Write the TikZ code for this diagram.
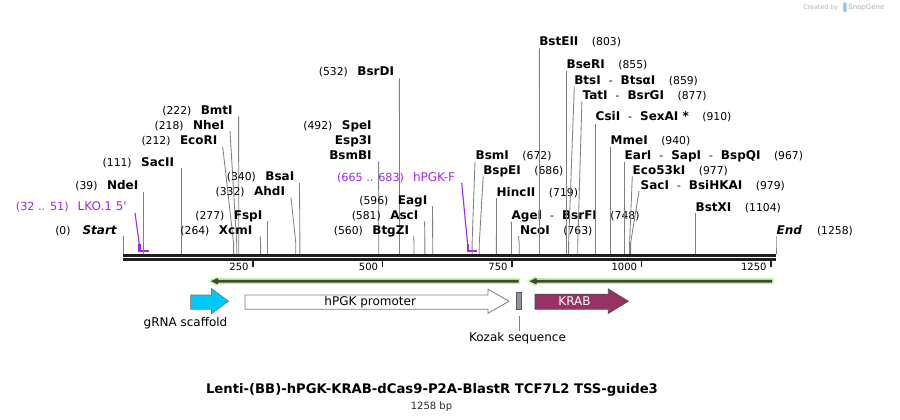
\documentclass[tikz,border=0pt]{standalone}
\usepackage{fontspec}
\setmainfont{DejaVu Sans}
\definecolor{sitegray}{RGB}{128,128,128}
\definecolor{primerc}{RGB}{160,40,240}
\definecolor{lgreen}{RGB}{200,242,160}
\definecolor{dgreen}{RGB}{62,72,52}
\definecolor{cyanf}{RGB}{0,200,255}
\definecolor{krabf}{RGB}{152,50,100}
\definecolor{kozakf}{RGB}{140,150,160}
\definecolor{logogray}{RGB}{175,175,175}
\definecolor{logoblue}{RGB}{150,200,235}
\newcommand\enzn[1]{{\fontsize{12}{14}\selectfont\bfseries #1}}
\newcommand\enzse[1]{{\fontsize{12}{14}\selectfont\bfseries\itshape #1}}
\newcommand\enzp[1]{{\fontsize{10.8}{13}\selectfont #1}}
\newcommand\primp[1]{{\fontsize{11.2}{13}\selectfont #1}}
\newcommand\primn[1]{{\fontsize{12}{14}\selectfont #1}}
\newcommand\dsep{\hspace{8pt}{\fontsize{10.8}{13}\selectfont -}\hspace{8pt}}
\newcommand\lgap{\hspace{9.5pt}}
\newcommand\rgap{\hspace{13.5pt}}
\newcommand\siteline[4]{%
  \coordinate (#1t) at (#2,#3);
  \coordinate (#1b) at (#4,243);
  \coordinate (#1e) at (#4,254);
  \draw[siteln] (#1t) -- (#1b) -- (#1e);}
\newcommand\orfarrow[3]{%
  \coordinate (#1tip) at (#2,281.2);
  \coordinate (#1tail) at (#3,281.2);
  \fill[lgreen] (#1tip) -- ++(9,-5.2) -- ++(0,2.2) -- (#3+1.5,278.2) -- (#3+1.5,284.2) -- (#2+9,284.2) -- (#2+9,286.4) -- cycle;
  \fill[dgreen] (#2+3,281.2) -- (#2+10,277.9) -- (#2+10,279.9) -- (#3,279.9) -- (#3,282.6) -- (#2+10,282.6) -- (#2+10,284.5) -- cycle;}
\tikzset{
  lab/.style={inner sep=0pt, outer sep=0pt},
  siteln/.style={draw=sitegray, line width=0.85pt},
  primerln/.style={draw=primerc, line width=1.1pt},
  primerbar/.style={draw=primerc, line width=2.2pt},
  featlab/.style={inner sep=0pt, outer sep=0pt, font=\fontsize{12}{14}\selectfont},
  ticklab/.style={inner sep=0pt, outer sep=0pt, font=\fontsize{10}{12}\selectfont},
}
\begin{document}
\begin{tikzpicture}[x=1pt,y=-1pt]
\useasboundingbox (0,0) rectangle (900,420);
\fill[white] (0,0) rectangle (900,420);

% logo
\node[lab, anchor=base east, text=logogray, font=\fontsize{6.3}{8}\selectfont] (logoA) at (838,10) {Created by};
\fill[logoblue, rounded corners=1pt] (843.2,2.5) rectangle (846.6,12);
\node[lab, anchor=base west, text=logogray, font=\fontsize{7}{8}\selectfont] (logoB) at (848.3,10) {SnapGene};

% ---------- left-side sites ----------
\node[lab,anchor=base east] (lStart) at (116.7,234) {\enzp{(0)}\hspace{12pt}\enzse{Start}};
\siteline{Start}{123.5}{236}{123.5}

\node[lab,anchor=base east,text=primerc] (lLKO) at (126.7,210.7) {\primp{(32 .. 51)}\hspace{9pt}\primn{LKO.1 5\textquotesingle}};
\coordinate (pLKOt) at (135,212.8);
\coordinate (pLKOb) at (139.4,245);
\draw[primerln] (pLKOt) -- (pLKOb);
\draw[primerbar] (139.4,244) -- (139.4,251) -- (149.3,251);

\node[lab,anchor=base east] (lNdeI) at (138.3,189.3) {\enzp{(39)}\lgap\enzn{NdeI}};
\siteline{NdeI}{143.9}{191.5}{143.9}
\node[lab,anchor=base east] (lSacII) at (174,166) {\enzp{(111)}\lgap\enzn{SacII}};
\siteline{SacII}{181.2}{168.3}{181.2}
\node[lab,anchor=base east] (lEcoRI) at (217.3,144.3) {\enzp{(212)}\lgap\enzn{EcoRI}};
\siteline{EcoRI}{222.7}{146.7}{233.6}
\node[lab,anchor=base east] (lNheI) at (224.3,129) {\enzp{(218)}\lgap\enzn{NheI}};
\siteline{NheI}{230}{131}{236.7}
\node[lab,anchor=base east] (lBmtI) at (232.7,114) {\enzp{(222)}\lgap\enzn{BmtI}};
\siteline{BmtI}{238.6}{116.5}{238.8}
\node[lab,anchor=base east] (lXcmI) at (252.3,234) {\enzp{(264)}\lgap\enzn{XcmI}};
\siteline{XcmI}{260.2}{236}{260.6}
\node[lab,anchor=base east] (lFspI) at (262.3,219.3) {\enzp{(277)}\lgap\enzn{FspI}};
\siteline{FspI}{267.3}{221.3}{267.3}
\node[lab,anchor=base east] (lAhdI) at (285,195.7) {\enzp{(332)}\lgap\enzn{AhdI}};
\siteline{AhdI}{291}{197.6}{295.8}
\node[lab,anchor=base east] (lBsaI) at (294.3,180.7) {\enzp{(340)}\lgap\enzn{BsaI}};
\siteline{BsaI}{299.5}{183}{299.9}
\node[lab,anchor=base east] (lSpeI) at (371.7,129.3) {\enzp{(492)}\lgap\enzn{SpeI}};
\node[lab,anchor=base east] (lEsp3I) at (371.7,144.3) {\enzn{Esp3I}};
\node[lab,anchor=base east] (lBsmBI) at (371.7,159.3) {\enzn{BsmBI}};
\siteline{SpeI}{378.6}{161.3}{378.8}
\node[lab,anchor=base east] (lBsrDI) at (394,76) {\enzp{(532)}\lgap\enzn{BsrDI}};
\siteline{BsrDI}{399.4}{78.5}{399.5}
\node[lab,anchor=base east] (lBtgZI) at (409,234) {\enzp{(560)}\lgap\enzn{BtgZI}};
\siteline{BtgZI}{413.7}{236}{414}
\node[lab,anchor=base east] (lAscI) at (418.3,219) {\enzp{(581)}\lgap\enzn{AscI}};
\siteline{AscI}{424.6}{221.3}{424.9}
\node[lab,anchor=base east] (lEagI) at (427.3,204) {\enzp{(596)}\lgap\enzn{EagI}};
\siteline{EagI}{432.5}{206.2}{432.7}

\node[lab,anchor=base east,text=primerc] (lhPGKF) at (455,181.5) {\primp{(665 .. 683)}\hspace{9pt}\primn{hPGK-F}};
\coordinate (phPGKt) at (461.7,182.9);
\coordinate (phPGKb) at (467.7,245);
\draw[primerln] (phPGKt) -- (phPGKb);
\draw[primerbar] (467.7,244) -- (467.7,251) -- (476.5,251);

% ---------- right-side sites ----------
\node[lab,anchor=base west] (rBsmI) at (475.7,159.3) {\enzn{BsmI}\rgap\enzp{(672)}};
\siteline{BsmI}{475}{161.5}{472.1}
\node[lab,anchor=base west] (rBspEI) at (483.3,174.3) {\enzn{BspEI}\rgap\enzp{(686)}};
\siteline{BspEI}{483.2}{176.3}{479.3}
\node[lab,anchor=base west] (rHincII) at (496.7,196) {\enzn{HincII}\rgap\enzp{(719)}};
\siteline{HincII}{496.5}{198}{496.4}
\node[lab,anchor=base west] (rAgeI) at (511.7,219.3) {\enzn{AgeI}\dsep\enzn{BsrFI}\rgap\enzp{(748)}};
\siteline{AgeI}{511.4}{221.6}{511.5}
\node[lab,anchor=base west] (rNcoI) at (520,234.3) {\enzn{NcoI}\rgap\enzp{(763)}};
\siteline{NcoI}{518.5}{236.2}{519.2}
\node[lab,anchor=base west] (rBstEII) at (539.3,46) {\enzn{BstEII}\rgap\enzp{(803)}};
\siteline{BstEII}{539.4}{48.5}{539.5}
\node[lab,anchor=base west] (rBseRI) at (566.7,69) {\enzn{BseRI}\rgap\enzp{(855)}};
\siteline{BseRI}{566.4}{71.2}{566.4}
\node[lab,anchor=base west] (rBtsI) at (574.3,84.3) {\enzn{BtsI}\dsep\enzn{BtsαI}\rgap\enzp{(859)}};
\siteline{BtsI}{574.3}{86.7}{568.6}
\node[lab,anchor=base west] (rTatI) at (582.7,99.3) {\enzn{TatI}\dsep\enzn{BsrGI}\rgap\enzp{(877)}};
\siteline{TatI}{581.9}{101.7}{577.8}
\node[lab,anchor=base west] (rCsiI) at (595.7,121) {\enzn{CsiI}\dsep\enzn{SexAI *}\rgap\enzp{(910)}};
\siteline{CsiI}{595.3}{124.2}{595.3}
\node[lab,anchor=base west] (rMmeI) at (610.7,144.3) {\enzn{MmeI}\rgap\enzp{(940)}};
\siteline{MmeI}{610.6}{146.7}{610.6}
\node[lab,anchor=base west] (rEarI) at (624.7,159.3) {\enzn{EarI}\dsep\enzn{SapI}\dsep\enzn{BspQI}\rgap\enzp{(967)}};
\siteline{EarI}{624.6}{161.7}{624.6}
\node[lab,anchor=base west] (rEco53kI) at (632.7,174.3) {\enzn{Eco53kI}\rgap\enzp{(977)}};
\siteline{Eco53kI}{632.3}{176.2}{629.6}
\node[lab,anchor=base west] (rSacI) at (640.7,189.3) {\enzn{SacI}\dsep\enzn{BsiHKAI}\rgap\enzp{(979)}};
\siteline{SacI}{639}{191.2}{630.6}
\node[lab,anchor=base west] (rBstXI) at (695.7,211) {\enzn{BstXI}\rgap\enzp{(1104)}};
\siteline{BstXI}{695.6}{212.8}{695.6}
\node[lab,anchor=base west] (rEnd) at (776.7,234) {\enzse{End}\hspace{15pt}\enzp{(1258)}};
\siteline{End}{776}{236}{776}

% ---------- backbone ----------
\coordinate (bbL) at (123.3,255.5);
\coordinate (bbR) at (776.3,255.5);
\draw[line width=3pt, black!88] (bbL) -- (bbR);
\draw[line width=2.7pt, black!88] (123.3,259.4) -- (776.3,259.4);

% ticks
\foreach \p/\lab in {250/250,500/500,750/750,1000/1000,1250/1250}{
  \draw[line width=1.9pt, black!88] ({123.5+0.518*\p},260.5) -- ({123.5+0.518*\p},267.4);
  \node[ticklab, anchor=base east] (tick\p) at ({123.5+0.518*\p-4.5},270.8) {\lab};
}

% ---------- ORF arrows ----------
\orfarrow{orfA}{208}{518.5}
\orfarrow{orfB}{526.5}{772}

% ---------- features ----------
\draw[fill=cyanf, draw=black!55, line width=0.7pt] (190.6,295) -- (211.5,295) -- (211.5,288.6) -- (228.5,301.2) -- (211.5,313.6) -- (211.5,309.2) -- (190.6,309.2) -- cycle;
\node[featlab, anchor=base] (fScaffold) at (185.5,326) {gRNA scaffold};

\draw[fill=white, draw=black!50, line width=0.8pt] (245,295) -- (488,295) -- (488,289.2) -- (509,301.2) -- (488,313.3) -- (488,309.2) -- (245,309.2) -- cycle;
\node[featlab, anchor=base] (fPGK) at (370.2,305) {hPGK promoter};

\node[draw=black!65, fill=kozakf, line width=0.7pt, minimum width=5.5pt, minimum height=16.6pt, inner sep=0pt] (fKozak) at (519,301) {};
\node[featlab, anchor=base] (fKozakLab) at (517.5,341.7) {Kozak sequence};
\coordinate (kzTop) at (519,316);
\coordinate (kzBot) at (519,330.6);
\draw[siteln] (kzTop) -- (kzBot);

\draw[fill=krabf, draw=black!70, line width=0.7pt] (535,294.2) -- (608.3,294.2) -- (608.3,289) -- (628.3,301.2) -- (608.3,313.4) -- (608.3,309.2) -- (535,309.2) -- cycle;
\node[featlab, anchor=base, text=white] (fKRAB) at (574.5,305) {KRAB};

% ---------- title ----------
\node[lab, anchor=base, font=\fontsize{13.2}{16}\selectfont\bfseries] (title) at (432,393) {Lenti-(BB)-hPGK-KRAB-dCas9-P2A-BlastR TCF7L2 TSS-guide3};
\node[lab, anchor=base, font=\fontsize{10}{12}\selectfont, text=black!85] (bp) at (431.5,409) {1258 bp};
\end{tikzpicture}
\end{document}
